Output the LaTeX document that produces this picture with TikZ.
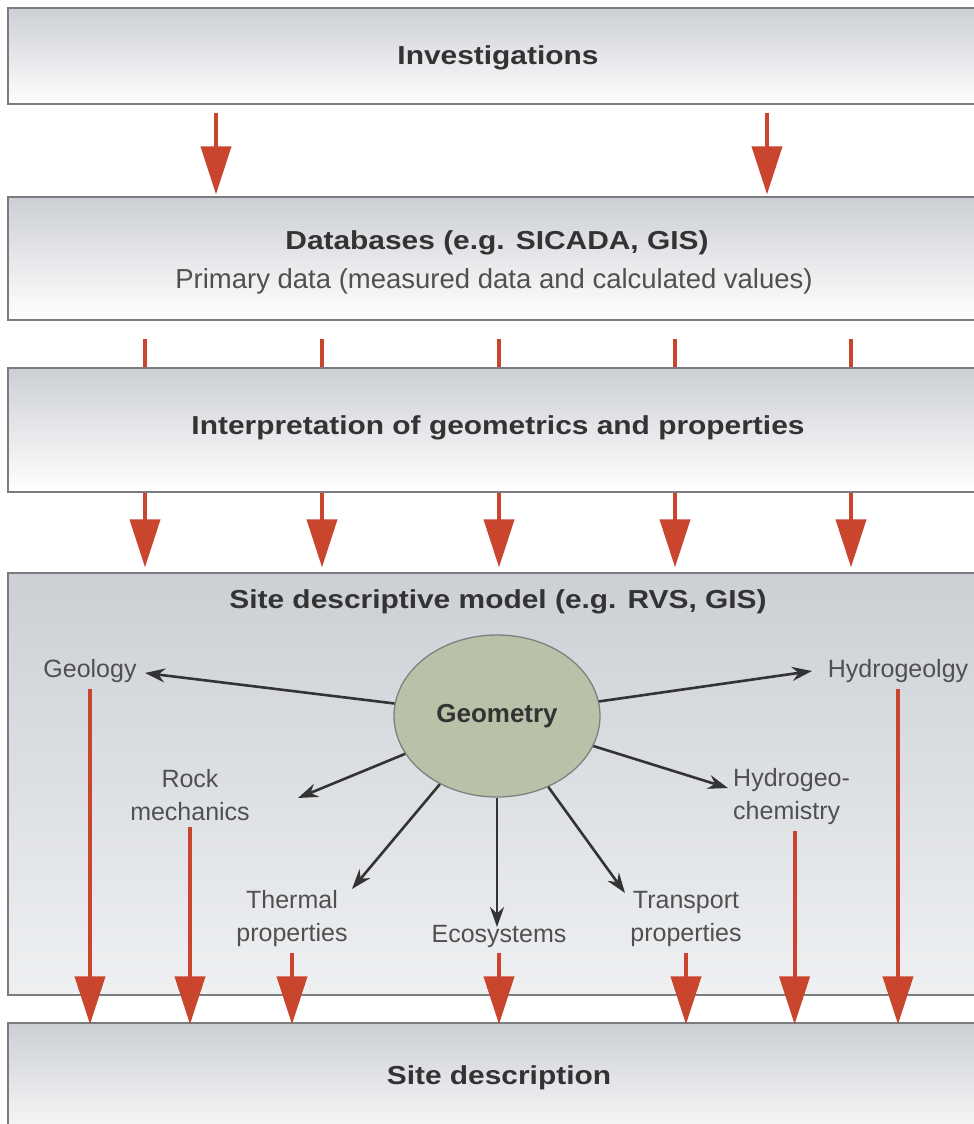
\documentclass[tikz,border=0pt]{standalone}
\usepackage{fontspec}
\setmainfont{Liberation Sans}
\newfontfamily\titlefont[FakeStretch=1.15]{Liberation Sans}
\usetikzlibrary{arrows.meta,shapes.geometric,calc}

\definecolor{boxgrey}{HTML}{CCCFD4}
\definecolor{boxmid}{HTML}{E3E6E9}
\definecolor{boxlow}{HTML}{EEF0F2}
\definecolor{framegrey}{HTML}{7A7C80}
\definecolor{flowred}{HTML}{C9452D}
\definecolor{geomfill}{HTML}{B9C2A8}
\definecolor{inkgrey}{HTML}{333333}
\definecolor{labelgrey}{HTML}{505050}

\begin{document}
\begin{tikzpicture}[x=1pt,y=-1pt,
  stage/.style={draw=framegrey, line width=1.3pt, shade,
    top color=boxgrey, middle color=boxmid, bottom color=white,
    minimum width=982pt, inner sep=0pt},
  title/.style={text=inkgrey, inner sep=0pt,
    font=\titlefont\fontsize{26}{30}\selectfont\bfseries},
  sub/.style={text=labelgrey, inner sep=0pt,
    font=\fontsize{27.5}{32}\selectfont},
  lab/.style={text=labelgrey, inner sep=2pt, align=center,
    font=\fontsize{25}{33}\selectfont},
  flow/.style={draw=flowred, line width=4pt,
    -{Triangle[length=48pt,width=30pt]}},
  feed/.style={draw=flowred, line width=4pt},
  spoke/.style={draw=inkgrey, line width=2.6pt,
    -{Stealth[length=20pt,width=14pt]}},
]
\useasboundingbox (0,0) rectangle (974,1124);
\clip (0,0) rectangle (974,1124);
\fill[white] (0,0) rectangle (974,1124);

% stage boxes (right edge runs past the page)
\node[stage, minimum height=96pt]  (inv)    at (499,56)    {};
\node[stage, minimum height=123pt] (db)     at (499,258.5) {};
\node[stage, minimum height=124pt] (interp) at (499,430)   {};
\node[stage, minimum height=422pt, middle color=boxmid!80!white,
      bottom color=boxlow] (sdm) at (499,784) {};
\node[stage, minimum height=130pt] (sdesc)  at (499,1088)  {};

% box captions
\node[title] (invT)    at (498,58)  {Investigations};
\node[title] (dbT)     at (497,243) {Databases (e.g. SICADA, GIS)};
\node[sub]   (dbS)     at (494,281) {Primary data (measured data and calculated values)};
\node[title] (interpT) at (498,428) {Interpretation of geometrics and properties};
\node[title] (sdmT)    at (498,602) {Site descriptive model (e.g. RVS, GIS)};
\node[title] (sdescT)  at (499,1078) {Site description};

% flow columns
\coordinate (ca) at (216,0);
\coordinate (cb) at (767,0);
\foreach \n/\x in {1/145,2/322,3/499,4/675,5/851}
  \coordinate (k\n) at (\x,0);

\draw[flow, shorten <=8pt, shorten >=2pt] (inv.south -| ca) -- (db.north -| ca);
\draw[flow, shorten <=8pt, shorten >=2pt] (inv.south -| cb) -- (db.north -| cb);
\foreach \n in {1,...,5}{
  \draw[feed, shorten <=18pt] (db.south -| k\n) -- (interp.north -| k\n);
  \draw[flow, shorten >=5pt] (interp.south -| k\n) -- (sdm.north -| k\n);
}

% central geometry node and its disciplines
\node[ellipse, draw=gray, line width=1.3pt, fill=geomfill,
      minimum width=206pt, minimum height=162pt, text=inkgrey,
      font=\fontsize{26}{30}\selectfont\bfseries] (geom) at (497,716) {Geometry};

\node[lab] (geology)   at (90,671)  {Geology};
\node[lab] (hydrogeo)  at (898,671) {Hydrogeolgy};
\node[lab] (rock)      at (190,795) {Rock\\mechanics};
\node[lab, align=left, anchor=west] (hchem) at (731,797) {Hydrogeo-\\chemistry};
\node[lab] (thermal)   at (292,919) {Thermal\\properties};
\node[lab] (eco)       at (499,936) {Ecosystems};
\node[lab] (transport) at (686,919) {Transport\\properties};

\coordinate (tGeo)   at (145,673);
\coordinate (tHyd)   at (812,671);
\coordinate (tRock)  at (298,798);
\coordinate (tChem)  at (728,788);
\coordinate (tTherm) at (352,889);
\coordinate (tEco)   at (497,927);
\coordinate (tTrans) at (625,893);
\foreach \t in {tGeo,tHyd,tRock,tChem,tTherm,tEco,tTrans}
  \draw[spoke] (geom) -- (\t);

% results feeding the site description
\foreach \l in {geology,hydrogeo,rock,thermal,eco,transport}
  \draw[flow, shorten <=4pt, shorten >=-2pt] (\l.south) -- (\l.south |- sdesc.north);
\draw[flow, shorten <=4pt, shorten >=-2pt] ([xshift=3pt]hchem.south) -- ([xshift=3pt]hchem.south |- sdesc.north);
\end{tikzpicture}
\end{document}
